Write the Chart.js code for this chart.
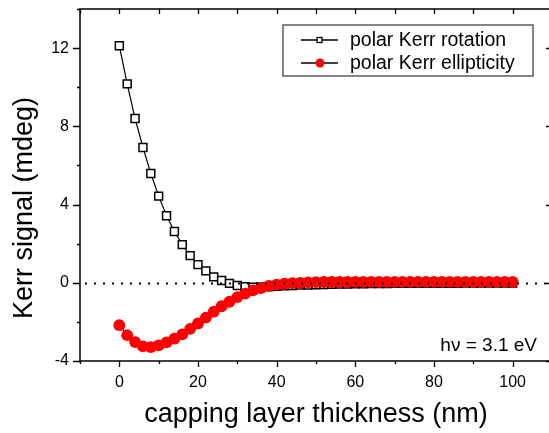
<!DOCTYPE html>
<html>
<head>
<meta charset="utf-8">
<script src="https://cdn.jsdelivr.net/npm/chart.js@4.4.1/dist/chart.umd.min.js"></script>
<style>
  html, body { margin: 0; padding: 0; background: #fff; overflow: hidden; }
  #wrap { width: 560px; height: 433px; }
</style>
</head>
<body>
<div id="wrap"><canvas id="kerr" width="560" height="433"></canvas></div>
<script>
// capping layer thickness (nm)
const thickness = [0, 2, 4, 6, 8, 10, 12, 14, 16, 18, 20, 22, 24, 26, 28, 30, 32, 34, 36, 38, 40,
  42, 44, 46, 48, 50, 52, 54, 56, 58, 60, 62, 64, 66, 68, 70, 72, 74, 76, 78, 80,
  82, 84, 86, 88, 90, 92, 94, 96, 98, 100];

// polar Kerr rotation (mdeg)
const rotation = [12.12, 10.17, 8.40, 6.92, 5.59, 4.43, 3.43, 2.62, 1.95, 1.39, 0.93,
  0.61, 0.30, 0.12, -0.03, -0.14, -0.20, -0.23, -0.22, -0.20, -0.18,
  -0.16, -0.14, -0.12, -0.11, -0.10, -0.09, -0.08, -0.07, -0.06, -0.05,
  -0.05, -0.04, -0.04, -0.04, -0.03, -0.03, -0.03, -0.03, -0.02, -0.02,
  -0.02, -0.02, -0.02, -0.01, -0.01, -0.01, -0.01, -0.01, -0.01, -0.01];

// polar Kerr ellipticity (mdeg)
const ellipticity = [-2.17, -2.68, -3.03, -3.25, -3.29, -3.20, -3.05, -2.86, -2.64, -2.36, -2.08,
  -1.78, -1.48, -1.20, -0.97, -0.73, -0.55, -0.39, -0.27, -0.16, -0.09,
  -0.05, -0.02, 0.00, 0.02, 0.03, 0.04, 0.04, 0.04, 0.05, 0.05,
  0.05, 0.05, 0.05, 0.05, 0.05, 0.05, 0.05, 0.05, 0.05, 0.05,
  0.05, 0.05, 0.05, 0.05, 0.05, 0.05, 0.05, 0.05, 0.05, 0.05];

const seriesNames = ["polar Kerr rotation", "polar Kerr ellipticity"];
const xTicks = [0, 20, 40, 60, 80, 100];
const yTicks = [-4, 0, 4, 8, 12];

const FONT = '"Liberation Sans", Arial, sans-serif';

const toPoints = (vals) => vals.map((v, i) => ({ x: thickness[i], y: v }));

// frame, tick marks, zero line, legend box, labels
const decorations = {
  id: "decorations",
  afterDatasetsDraw(chart) {
    const { ctx, chartArea: a, scales: { x, y } } = chart;
    ctx.save();

    // dotted line at zero
    const y0 = Math.round(y.getPixelForValue(0)) + 0.5;
    ctx.strokeStyle = "#000";
    ctx.lineWidth = 2;
    ctx.setLineDash([2, 7]);
    ctx.beginPath();
    ctx.moveTo(a.left + 5, y0);
    ctx.lineTo(a.right, y0);
    ctx.stroke();
    ctx.setLineDash([]);

    // axis box
    ctx.lineWidth = 1.5;
    ctx.strokeRect(a.left, a.top, a.right - a.left, a.bottom - a.top);

    // x ticks: every 10, labelled ones are major
    ctx.lineWidth = 1.3;
    ctx.beginPath();
    for (let v = x.min; v <= x.max; v += 10) {
      const px = Math.round(x.getPixelForValue(v)) + 0.5;
      const major = xTicks.includes(v);
      ctx.moveTo(px, a.bottom);
      ctx.lineTo(px, a.bottom + (major ? 6 : 3));
      ctx.moveTo(px, a.top);
      ctx.lineTo(px, a.top + 5);
    }
    // y ticks: every 2
    for (let v = y.min; v <= y.max; v += 2) {
      const py = Math.round(y.getPixelForValue(v)) + 0.5;
      const major = yTicks.includes(v);
      ctx.moveTo(a.left - (major ? 7 : 3), py);
      ctx.lineTo(a.left, py);
      ctx.moveTo(a.right - (major ? 6 : 3), py);
      ctx.lineTo(a.right, py);
    }
    ctx.stroke();
    ctx.restore();
  },
  afterDraw(chart) {
    const { ctx } = chart;
    ctx.save();

    // legend box
    ctx.fillStyle = "#fff";
    ctx.fillRect(283, 25, 250, 51);
    ctx.strokeStyle = "#444";
    ctx.lineWidth = 1.3;
    ctx.strokeRect(283, 25, 250, 51);

    const rows = [40, 63];
    rows.forEach((ry, i) => {
      const ds = chart.data.datasets[i];
      ctx.strokeStyle = "#000";
      ctx.lineWidth = 1.5;
      ctx.beginPath();
      ctx.moveTo(301, ry);
      ctx.lineTo(338, ry);
      ctx.stroke();
      if (ds.pointStyle === "rect") {
        ctx.fillStyle = "#fff";
        ctx.fillRect(317, ry - 2.5, 5, 5);
        ctx.lineWidth = 1.3;
        ctx.strokeRect(317, ry - 2.5, 5, 5);
      } else {
        ctx.fillStyle = ds.pointBackgroundColor;
        ctx.beginPath();
        ctx.arc(320, ry, 4.5, 0, Math.PI * 2);
        ctx.fill();
      }
      ctx.fillStyle = "#000";
      ctx.font = "19.5px " + FONT;
      ctx.textAlign = "left";
      ctx.textBaseline = "middle";
      ctx.fillText(ds.label, 350, ry + 1);
    });

    // photon energy note
    ctx.font = "19px " + FONT;
    ctx.textAlign = "right";
    ctx.fillText("h\u03bd = 3.1 eV", 537, 346);

    // y axis title
    ctx.font = "27px " + FONT;
    ctx.textAlign = "center";
    ctx.translate(25, 208);
    ctx.rotate(-Math.PI / 2);
    ctx.fillText("Kerr signal (mdeg)", 0, 0);
    ctx.restore();
  }
};

new Chart(document.getElementById("kerr"), {
  type: "scatter",
  data: {
    datasets: [
      {
        label: seriesNames[0],
        data: toPoints(rotation),
        showLine: true,
        borderColor: "#000",
        borderWidth: 1.2,
        pointStyle: "rect",
        pointRadius: 5.6,
        pointBackgroundColor: "#fff",
        pointBorderColor: "#000",
        pointBorderWidth: 1.5,
        order: 1
      },
      {
        label: seriesNames[1],
        data: toPoints(ellipticity),
        showLine: true,
        borderColor: "#000",
        borderWidth: 1.2,
        pointStyle: "circle",
        pointRadius: 5.9,
        pointBackgroundColor: "#ff0000",
        pointBorderColor: "#ff0000",
        pointBorderWidth: 0,
        order: 0
      }
    ]
  },
  options: {
    responsive: false,
    animation: false,
    devicePixelRatio: 1,
    events: [],
    layout: { padding: { top: 9, right: 8, left: 0, bottom: 0 } },
    plugins: { legend: { display: false }, tooltip: { enabled: false } },
    scales: {
      x: {
        type: "linear",
        min: -10,
        max: 110,
        grid: { display: false, drawTicks: false },
        border: { display: false },
        afterBuildTicks: (s) => { s.ticks = xTicks.map((v) => ({ value: v })); },
        afterFit: (s) => { s.height = 72; s.paddingLeft = 0; s.paddingRight = 0; },
        ticks: {
          color: "#000",
          padding: 14,
          maxRotation: 0,
          font: { family: FONT, size: 16, lineHeight: 1 }
        },
        title: {
          display: true,
          text: "capping layer thickness (nm)",
          color: "#000",
          padding: { top: 0, bottom: 5 },
          font: { family: FONT, size: 27, lineHeight: 1 }
        }
      },
      y: {
        type: "linear",
        min: -4,
        max: 14,
        grid: { display: false, drawTicks: false },
        border: { display: false },
        afterBuildTicks: (s) => { s.ticks = yTicks.map((v) => ({ value: v })); },
        afterFit: (s) => { s.width = 80; s.paddingTop = 0; s.paddingBottom = 0; },
        ticks: {
          color: "#000",
          padding: 11,
          font: { family: FONT, size: 16, lineHeight: 1 }
        }
      }
    }
  },
  plugins: [decorations]
});
</script>
</body>
</html>
